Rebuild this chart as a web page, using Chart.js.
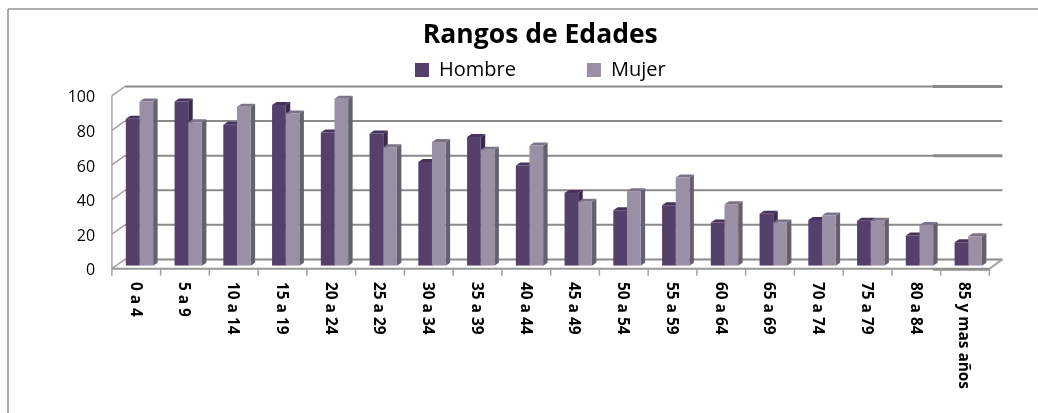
<!DOCTYPE html>
<html><head><meta charset="utf-8">
<style>html,body{margin:0;padding:0;background:#fff}canvas{display:block}</style>
<script src="https://cdn.jsdelivr.net/npm/chart.js@4"></script>
</head><body>
<div style="width:1038px;height:413px;position:relative"><canvas id="c" width="1038" height="413"></canvas></div>
<script>
const categories = ["0 a 4","5 a 9","10 a 14","15 a 19","20 a 24","25 a 29","30 a 34","35 a 39","40 a 44","45 a 49","50 a 54","55 a 59","60 a 64","65 a 69","70 a 74","75 a 79","80 a 84","85 y mas años"];
const hombre = [85,95,81.5,93,77,76.5,60,74.5,58,42,32,35,25,30,26.5,26,17.5,13.5];
const mujer  = [95,83,92,88,96.5,68.5,71.5,67,69.5,37,43,51,35.5,25,29,26,23.5,17];
const yTicks = [0,20,40,60,80,100];
const FONT = '"Open Sans"';
const GRID = '#8a8a8a';
const depth = {dx:4.5, dy:3};
const frontShift = {dx:-3.2, dy:3};
const backShift = {dx:9.8, dy:-6.3};
const LEGEND_GAP = 71;
const faces = [
  {top:'#46325a', side:'#3a2a4c'},
  {top:'#7c7388', side:'#65606e'}
];
function poly(ctx, pts, color){
  ctx.fillStyle=color; ctx.beginPath();
  pts.forEach((p,i)=> i?ctx.lineTo(p[0],p[1]):ctx.moveTo(p[0],p[1]));
  ctx.closePath(); ctx.fill();
}
function seg(ctx,x1,y1,x2,y2,w,color){
  ctx.strokeStyle=color||GRID; ctx.lineWidth=w; ctx.beginPath(); ctx.moveTo(x1,y1); ctx.lineTo(x2,y2); ctx.stroke();
}
const scene = {
  id:'scene',
  afterInit(chart){
    const lg=chart.legend, fit=lg.fit;
    lg.fit=function(){fit.call(this); this.height=41;};
  },
  afterLayout(chart){
    const lg=chart.legend, tb=chart.titleBlock;
    lg.top = 60 - LEGEND_GAP;
    lg.left += 22; lg.right += 22;
    tb.left += 22; tb.right += 22;
  },
  beforeDatasetsDraw(chart){
    const {ctx,chartArea:a,scales:{x,y}} = chart;
    ctx.save();
    seg(ctx,8,9,1038,9,1.6,'#949494');
    seg(ctx,8,9,8,413,1.6,'#949494');
    const L=a.left+frontShift.dx, R=a.right+frontShift.dx;
    seg(ctx,L,y.getPixelForValue(100)+frontShift.dy,L,y.getPixelForValue(0)+frontShift.dy,1.5,'#a6a6a6');
    yTicks.forEach(v=>{
      const py=y.getPixelForValue(v);
      seg(ctx,L,py+frontShift.dy,a.left+backShift.dx,py+backShift.dy,1.5,'#a0a0a0');
      const thick=(v===100||v===60)?3:2;
      seg(ctx,a.left+backShift.dx,py+backShift.dy,933,py+backShift.dy,2);
      seg(ctx,933,py+backShift.dy,a.right+backShift.dx,py+backShift.dy,thick);
    });
    const p0=y.getPixelForValue(0);
    seg(ctx,L,p0+frontShift.dy,933,p0+frontShift.dy,2,'#999');
    seg(ctx,933,p0+frontShift.dy+.5,R,p0+frontShift.dy+.5,3,'#8f8f8f');
    seg(ctx,R,p0+frontShift.dy,a.right+backShift.dx,p0+backShift.dy,2,'#a0a0a0');
    categories.forEach((_,i)=>{
      const t=L+(R-L)*i/categories.length;
      seg(ctx,t,p0+frontShift.dy,t,p0+frontShift.dy+7,1.5,'#a0a0a0');
    });
    seg(ctx,R,p0+frontShift.dy,R,p0+frontShift.dy+7,1.5,'#a0a0a0');
    categories.forEach((_,i)=>{
      [0,1].forEach(ds=>{
        const b=chart.getDatasetMeta(ds).data[i];
        const l=b.x-b.width/2, r=b.x+b.width/2, t=b.y, bot=b.base;
        poly(ctx,[[r,t],[r+depth.dx,t-depth.dy],[r+depth.dx,bot-depth.dy],[r,bot]],faces[ds].side);
        poly(ctx,[[l,t],[l+depth.dx,t-depth.dy],[r+depth.dx,t-depth.dy],[r,t]],faces[ds].top);
      });
    });
    ctx.restore();
  },
  afterDraw(chart){
    const {ctx,scales:{x}} = chart;
    ctx.save();
    ctx.fillStyle='#000'; ctx.font='bold 15.4px '+FONT;
    ctx.textAlign='left'; ctx.textBaseline='middle';
    categories.forEach((_,i)=>{
      ctx.save();
      ctx.translate(x.getPixelForTick(i)-4.5,282);
      ctx.rotate(Math.PI/2);
      ctx.fillText(x.getLabelForValue(i),0,0);
      ctx.restore();
    });
    ctx.restore();
  }
};
new Chart(document.getElementById('c'),{
  type:'bar',
  data:{labels:categories,datasets:[
    {label:'Hombre',data:hombre,backgroundColor:'#553f6b'},
    {label:'Mujer',data:mujer,backgroundColor:'#9a8fa5'}
  ]},
  plugins:[scene],
  options:{
    responsive:false,animation:false,
    layout:{padding:{left:44,right:45.4,top:20,bottom:0}},
    datasets:{bar:{categoryPercentage:0.56,barPercentage:1}},
    scales:{
      x:{grid:{display:false,drawTicks:false},border:{display:false},ticks:{display:false},
         afterFit(s){s.height=147.3;}},
      y:{min:0,max:100,grid:{display:false,drawTicks:false},border:{display:false},
         afterBuildTicks(s){s.ticks=yTicks.map(v=>({value:v}));},
         ticks:{color:'#000',padding:20,labelOffset:5,font:{family:FONT,size:16}},
         afterFit(s){s.width=71.1;}}
    },
    plugins:{
      tooltip:{enabled:false},
      title:{display:true,text:'Rangos de Edades',color:'#000',font:{family:FONT,size:26.5,weight:'bold'},padding:{top:0,bottom:0}},
      legend:{display:true,position:'top',labels:{color:'#000',boxWidth:14,boxHeight:14,padding:LEGEND_GAP,font:{family:FONT,size:20}}}
    }
  }
});
</script>
</body></html>
